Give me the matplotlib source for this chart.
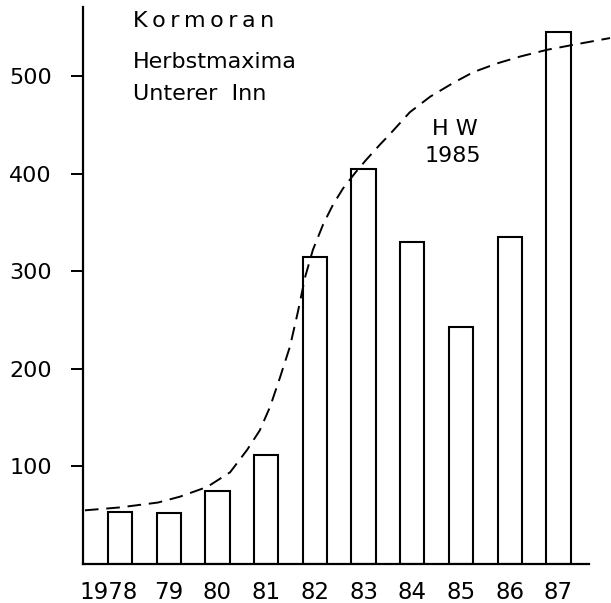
import numpy as np
import matplotlib
matplotlib.use('Agg')
import matplotlib.pyplot as plt
import matplotlib.transforms as mtransforms

# Kormoran, Herbstmaxima am Unteren Inn
years = ['1978', '79', '80', '81', '82', '83', '84', '85', '86', '87']
counts = [53, 52, 75, 112, 315, 405, 330, 243, 335, 545]

# dashed trend curve (HW 1985), x in bar slots
curve_x = [-0.72, 0.0, 0.78, 1.23, 1.79, 2.26, 2.61, 2.87, 3.08, 3.29, 3.49,
           3.65, 3.80, 3.96, 4.17, 4.37, 4.58, 4.83, 5.05, 5.34, 5.55, 5.95,
           6.37, 6.84, 7.25, 7.74, 8.21, 8.77, 9.30, 10.06]
curve_y = [55, 58, 63, 69, 79, 94, 117, 137, 161, 192, 223,
           258, 294, 322, 348, 368, 385, 401, 414, 430, 441, 463,
           479, 493, 504, 513, 520, 527, 532, 539]

y_ticks = [100, 200, 300, 400, 500]

W, H = 611, 603
fig = plt.figure(figsize=(W / 100, H / 100), dpi=100)
ax = fig.add_axes([83 / W, (H - 564) / H, (W - 83) / W, 564 / H])

x = np.arange(len(years))
ax.bar(x, counts, width=0.5, facecolor='white', edgecolor='black', linewidth=1.5)
ax.plot(curve_x, curve_y, color='black', linewidth=1.4, linestyle=(0, (7, 4)),
        clip_on=False)

ax.set_xlim(-0.76, 10.08)
ax.set_ylim(0, 578)

ax.spines['top'].set_visible(False)
ax.spines['right'].set_visible(False)
ax.spines['left'].set_linewidth(1.6)
ax.spines['bottom'].set_linewidth(1.6)
ax.spines['left'].set_bounds(0, 571)
ax.spines['bottom'].set_bounds(-0.76, 9.63)

ax.set_yticks(y_ticks)
ax.set_yticklabels([str(v) for v in y_ticks])
ax.tick_params(axis='y', length=8.5, width=1.4, pad=14, labelsize=16)

ax.set_xticks(x)
ax.set_xticklabels(years)
ax.tick_params(axis='x', length=0, pad=12, labelsize=16.5)
# the 1978 label sits left of its bar
first = ax.get_xticklabels()[0]
first.set_transform(first.get_transform() +
                    mtransforms.ScaledTranslation(-11 / 100, 0, fig.dpi_scale_trans))

def px_text(px, py, s, **kw):
    fig.text(px / W, 1 - py / H, s, fontsize=16, va='baseline', **kw)

px_text(133, 27, 'K\u2009o\u2009r\u2009m\u2009o\u2009r\u2009a\u2009n')
px_text(133, 68, 'Herbstmaxima')
px_text(133, 100, 'Unterer  Inn')
px_text(455, 135, 'H W', ha='center')
px_text(453, 162, '1985', ha='center')

fig.savefig('out.png', dpi=100)
